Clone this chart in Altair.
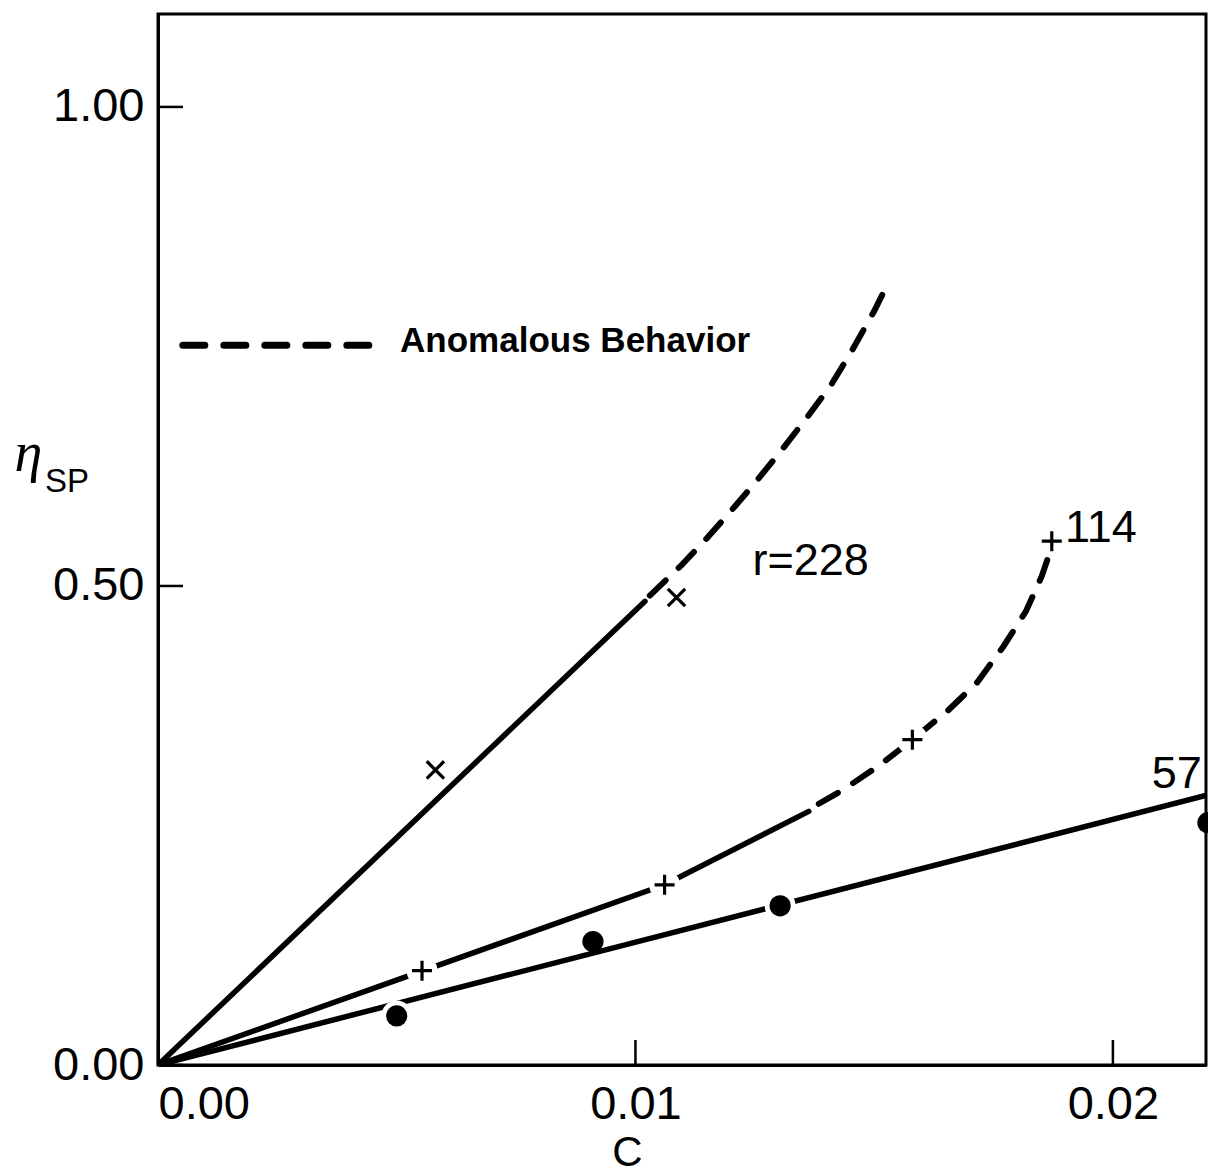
import altair as alt
import pandas as pd

# ---------------- data ----------------
x_ticks = [0.0, 0.01, 0.02]
y_ticks = [0.0, 0.5, 1.0]

# r = 228 (x markers)
c228_solid = [0.0, 0.0102]
v228_solid = [0.0, 0.484]
c228_dash = [0.0103, 0.01097, 0.0115, 0.01203, 0.01256, 0.01308, 0.01361, 0.0141, 0.01455, 0.0150, 0.0153]
v228_dash = [0.490, 0.522, 0.550, 0.580, 0.611, 0.643, 0.677, 0.710, 0.747, 0.787, 0.817]
c228_pts = [0.00581, 0.01086]
v228_pts = [0.308, 0.488]

# r = 114 (+ markers)
c114_solid = [0.0, 0.01061, 0.01363]
v114_solid = [0.0, 0.1881, 0.2647]
c114_dash = [0.01384, 0.01433, 0.01508, 0.0158, 0.01655, 0.01716, 0.01771, 0.01818, 0.01851, 0.0187]
v114_dash = [0.2727, 0.2866, 0.3117, 0.3396, 0.3702, 0.3995, 0.4371, 0.4737, 0.5102, 0.5381]
c114_pts = [0.00553, 0.01061, 0.0158, 0.01872]
v114_pts = [0.0985, 0.1881, 0.3396, 0.5468]
gap114 = [True, True, True, False]

# r = 57 (dots)
c57_line = [0.0, 0.0220]
v57_line = [0.0, 0.282]
c57_pts = [0.0050, 0.00911, 0.01303, 0.02199]
v57_pts = [0.0512, 0.1288, 0.1662, 0.2529]
gap57 = [True, False, True, False]

# curve labels
lab_text = ["r=228", "114", "57"]
lab_c = [0.01367, 0.01975, 0.02134]
lab_v = [0.5256, 0.5601, 0.3041]

# legend sample
leg_c = [0.00052, 0.00455]
leg_v = [0.7513, 0.7513]
leg_text = ["Anomalous Behavior"]
leg_text_c = [0.00507]
leg_text_v = [0.7557]

# ---------------- chart ----------------
W, H = 1048, 1051
FONT = "Liberation Sans"


def frame(c, v, s=None):
    d = pd.DataFrame({"c": c, "v": v})
    if s is not None:
        d["s"] = s
    return d


xs = alt.Scale(domain=[0, 0.02195], nice=False, zero=False)
ys = alt.Scale(domain=[0, 1.097], nice=False, zero=False)

x_axis = alt.Axis(
    values=x_ticks, format=".2f", title="C", ticks=False, tickSize=0, grid=False,
    domainColor="black", domainWidth=3,
    labelFont=FONT, labelFontSize=47, labelColor="black", labelPadding=16, labelFlush=True,
    titleFont=FONT, titleFontSize=42, titleFontWeight="normal", titleColor="black",
    titleX=469, titleY=100, titleBaseline="alphabetic", titleAlign="center",
)
y_axis = alt.Axis(
    values=y_ticks, format=".2f", title="η", ticks=False, tickSize=0, grid=False,
    domainColor="black", domainWidth=3,
    labelFont=FONT, labelFontSize=47, labelColor="black", labelPadding=14,
    titleFont="Liberation Serif", titleFontStyle="italic", titleFontSize=56,
    titleFontWeight="normal", titleColor="black", titleAngle=0,
    titleX=-130, titleY=456, titleBaseline="alphabetic", titleAlign="center",
)
X = alt.X("c:Q", scale=xs, axis=x_axis)
Y = alt.Y("v:Q", scale=ys, axis=y_axis)

xtick_layer = alt.Chart(pd.DataFrame({"c": x_ticks})).mark_rule(color="black", strokeWidth=2.5).encode(
    x=X, y=alt.value(H), y2=alt.value(H - 25))
ytick_layer = alt.Chart(pd.DataFrame({"v": y_ticks})).mark_rule(color="black", strokeWidth=2.5).encode(
    y=Y, x=alt.value(0), x2=alt.value(25))

solid = pd.concat([
    frame(c228_solid, v228_solid, "228"),
    frame(c114_solid, v114_solid, "114"),
    frame(c57_line, v57_line, "57"),
])
dashed = pd.concat([
    frame(c228_dash, v228_dash, "228"),
    frame(c114_dash, v114_dash, "114"),
])

solid_layer = alt.Chart(solid).mark_line(color="black", strokeWidth=5.5, strokeCap="round", clip=True).encode(
    x=X, y=Y, detail="s:N")
dashed_layer = alt.Chart(dashed).mark_line(
    color="black", strokeWidth=6, strokeCap="round", strokeDash=[22, 18], clip=True).encode(
    x=X, y=Y, detail="s:N")
legend_line = alt.Chart(frame(leg_c, leg_v)).mark_line(
    color="black", strokeWidth=7, strokeCap="round", strokeDash=[22, 19]).encode(x=X, y=Y)

halo_df = pd.concat([
    frame([c for c, g in zip(c114_pts, gap114) if g], [v for v, g in zip(v114_pts, gap114) if g]),
    frame([c for c, g in zip(c57_pts, gap57) if g], [v for v, g in zip(v57_pts, gap57) if g]),
])
halo_layer = alt.Chart(halo_df).mark_point(
    shape="circle", filled=True, fill="white", stroke="white", strokeWidth=0, size=950, opacity=1).encode(x=X, y=Y)

dots_layer = alt.Chart(frame(c57_pts, v57_pts)).mark_point(
    shape="circle", filled=True, color="black", size=450, opacity=1).encode(x=X, y=Y)
plus_layer = alt.Chart(frame(c114_pts, v114_pts)).mark_point(
    shape="M-1,0L1,0M0,-1L0,1", filled=False, color="black", strokeWidth=3.2, size=400, opacity=1).encode(x=X, y=Y)
cross_layer = alt.Chart(frame(c228_pts, v228_pts)).mark_point(
    shape="M-1,-1L1,1M-1,1L1,-1", filled=False, color="black", strokeWidth=3.2, size=300, opacity=1).encode(x=X, y=Y)

labels = pd.DataFrame({"c": lab_c, "v": lab_v, "t": lab_text})
label_layer = alt.Chart(labels).mark_text(
    font=FONT, fontSize=45, color="black", align="center", baseline="middle").encode(x=X, y=Y, text="t:N")

leg_lab = pd.DataFrame({"c": leg_text_c, "v": leg_text_v, "t": leg_text})
leg_text_layer = alt.Chart(leg_lab).mark_text(
    font=FONT, fontSize=35, fontWeight="bold", color="black", align="left", baseline="middle").encode(
    x=X, y=Y, text="t:N")

sub_layer = alt.Chart(pd.DataFrame({"t": ["SP"]})).mark_text(
    font=FONT, fontSize=33, color="black", align="center", baseline="alphabetic").encode(
    x=alt.value(-91), y=alt.value(478), text="t:N")

chart = alt.layer(
    solid_layer, dashed_layer, legend_line, halo_layer, dots_layer, plus_layer, cross_layer,
    xtick_layer, ytick_layer, label_layer, leg_text_layer, sub_layer,
).properties(
    width=W, height=H,
    padding={"left": 158, "top": 14, "right": 2, "bottom": 110},
    autosize=alt.AutoSizeParams(type="none"),
    background="white",
).configure_view(
    stroke="black", strokeWidth=3,
)

chart.save("out.html", embed_options={"renderer": "svg", "actions": False})
